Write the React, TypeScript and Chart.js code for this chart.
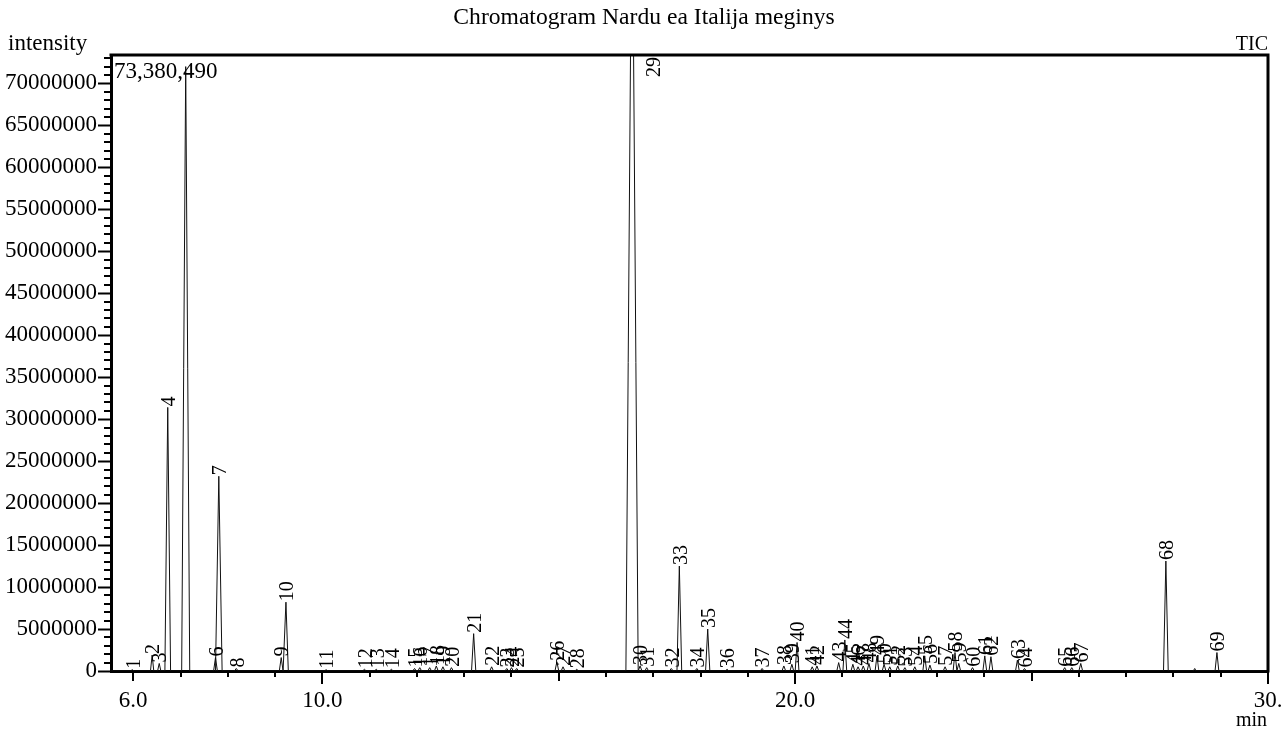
import React, { useEffect, useRef } from "react";
import { Chart, registerables } from "chart.js";

Chart.register(...registerables);

const chartTitle = "Chromatogram Nardu ea Italija meginys";
const yAxisName = "intensity";
const xAxisName = "min";
const traceName = "TIC";

const xMin = 5.53;
const xMax = 30.0;
const yMax = 73380490;

const xTickValues = [6, 10, 20, 30];
const xTickLabels = ["6.0", "10.0", "20.0", "30."];
const yTickValues = [
  0, 5000000, 10000000, 15000000, 20000000, 25000000, 30000000, 35000000,
  40000000, 45000000, 50000000, 55000000, 60000000, 65000000, 70000000,
];

const peakNumbers = [
  1, 2, 3, 4, 5, 6, 7, 8, 9, 10, 11, 12, 13, 14, 15, 16, 17, 18, 19, 20, 21, 22, 23,
  24, 25, 26, 27, 28, 29, 30, 31, 32, 33, 34, 35, 36, 37, 38, 39, 40, 41, 42, 43, 44,
  45, 46, 47, 48, 49, 50, 51, 52, 53, 54, 55, 56, 57, 58, 59, 60, 61, 62, 63, 64, 65,
  66, 67, 68, 69,
];
// peak numbers whose label is not printed in the reference (overlaps the max-value text)
const hiddenPeakLabels = [5];
const peakTimes = [
  5.98, 6.4, 6.55, 6.73, 7.11, 7.74, 7.81, 8.18, 9.13, 9.23, 10.08, 10.89, 11.14,
  11.46, 11.95, 12.06, 12.27, 12.41, 12.55, 12.73, 13.2, 13.58, 13.9, 14.0, 14.11,
  14.96, 15.09, 15.38, 16.55, 16.72, 16.86, 17.38, 17.55, 17.92, 18.15, 18.56, 19.3,
  19.76, 19.93, 20.04, 20.36, 20.46, 20.92, 21.05, 21.22, 21.33, 21.44, 21.56, 21.73,
  21.88, 22.0, 22.17, 22.32, 22.53, 22.74, 22.85, 23.17, 23.38, 23.46, 23.75, 24.01,
  24.14, 24.7, 24.85, 25.7, 25.85, 26.04, 27.84, 28.92,
];
const peakHeights = [
  150000, 1900000, 900000, 31400000, 72000000, 1600000, 23200000, 300000, 1600000,
  8200000, 150000, 200000, 200000, 200000, 300000, 400000, 400000, 600000, 500000,
  400000, 4450000, 500000, 300000, 400000, 300000, 1100000, 500000, 200000, 98000000,
  600000, 400000, 300000, 12500000, 300000, 5000000, 200000, 300000, 600000, 800000,
  3400000, 500000, 600000, 1000000, 3700000, 800000, 500000, 600000, 900000, 1800000,
  800000, 500000, 600000, 400000, 500000, 1800000, 700000, 500000, 2200000, 900000,
  400000, 1800000, 1700000, 1300000, 300000, 400000, 400000, 900000, 13100000, 2200000,
];
const peakWidths = [
  0.08, 0.07, 0.07, 0.12, 0.17, 0.08, 0.14, 0.08, 0.08, 0.1, 0.08, 0.08, 0.08, 0.08,
  0.08, 0.08, 0.08, 0.08, 0.08, 0.08, 0.09, 0.08, 0.08, 0.08, 0.08, 0.08, 0.08, 0.08,
  0.26, 0.08, 0.08, 0.08, 0.1, 0.08, 0.09, 0.08, 0.08, 0.08, 0.08, 0.08, 0.08, 0.08,
  0.08, 0.08, 0.08, 0.08, 0.08, 0.08, 0.08, 0.08, 0.08, 0.08, 0.08, 0.08, 0.08, 0.08,
  0.08, 0.08, 0.08, 0.08, 0.08, 0.08, 0.08, 0.08, 0.08, 0.08, 0.08, 0.1, 0.08,
];
const bumpTimes = [28.45];
const bumpHeights = [300000];
const bumpWidths = [0.06];

const SERIF = "'Liberation Serif', 'Times New Roman', serif";

function buildTrace() {
  const pts: { x: number; y: number }[] = [{ x: xMin, y: 0 }];
  const all = peakTimes
    .map((t, i) => ({ t, h: peakHeights[i], w: peakWidths[i] }))
    .concat(bumpTimes.map((t, i) => ({ t, h: bumpHeights[i], w: bumpWidths[i] })))
    .sort((a, b) => a.t - b.t);
  all.forEach((p) => {
    pts.push({ x: p.t - p.w / 2, y: 0 });
    pts.push({ x: p.t, y: p.h });
    pts.push({ x: p.t + p.w / 2, y: 0 });
  });
  pts.push({ x: xMax, y: 0 });
  return pts;
}

const decorPlugin = {
  id: "decor",
  afterDraw(chart: any) {
    const { ctx, chartArea: a, scales } = chart;
    const xs = scales.x;
    const ys = scales.y;
    ctx.save();
    ctx.strokeStyle = "#000";
    ctx.fillStyle = "#000";

    // top and right frame
    ctx.lineWidth = 3;
    ctx.beginPath();
    ctx.moveTo(a.left - 1.5, a.top);
    ctx.lineTo(a.right, a.top);
    ctx.lineTo(a.right, a.bottom + 1.5);
    ctx.stroke();

    // minor y ticks
    ctx.lineWidth = 2;
    ctx.beginPath();
    for (let v = 1000000; v <= yMax; v += 1000000) {
      if (v % 5000000 === 0) continue;
      const py = Math.round(ys.getPixelForValue(v));
      ctx.moveTo(a.left - 7, py);
      ctx.lineTo(a.left, py);
    }
    ctx.stroke();

    // x ticks
    ctx.beginPath();
    for (let v = Math.ceil(xMin); v <= xMax; v += 1) {
      const px = Math.round(xs.getPixelForValue(v));
      const len = v % 10 === 0 ? 13 : v % 5 === 0 || xTickValues.includes(v) ? 10 : 6;
      ctx.moveTo(px, a.bottom);
      ctx.lineTo(px, a.bottom + len);
    }
    ctx.stroke();

    // peak labels
    ctx.font = `20px ${SERIF}`;
    ctx.textBaseline = "middle";
    peakNumbers.forEach((n, i) => {
      if (hiddenPeakLabels.includes(n)) return;
      const px = xs.getPixelForValue(peakTimes[i]);
      ctx.save();
      if (peakHeights[i] > yMax) {
        ctx.translate(px + 23, a.top + 2);
        ctx.rotate(-Math.PI / 2);
        ctx.textAlign = "right";
      } else {
        const py = ys.getPixelForValue(peakHeights[i]);
        ctx.translate(px + 2, py - 1);
        ctx.rotate(-Math.PI / 2);
        ctx.textAlign = "left";
      }
      ctx.fillText(String(n), 0, 0);
      ctx.restore();
    });

    // axis names and max value
    ctx.font = `23px ${SERIF}`;
    ctx.textBaseline = "alphabetic";
    ctx.textAlign = "left";
    ctx.fillText(yAxisName, 8, 50);
    ctx.fillText(yMax.toLocaleString("en-US"), a.left + 3, 78);
    ctx.font = `20px ${SERIF}`;
    ctx.textAlign = "right";
    ctx.fillText(traceName, a.right, 50);
    ctx.fillText(xAxisName, a.right - 1, 726);
    ctx.restore();
  },
};

export default function App() {
  const canvasRef = useRef<HTMLCanvasElement | null>(null);

  useEffect(() => {
    if (!canvasRef.current) return;
    const chart = new Chart(canvasRef.current, {
      type: "line",
      data: {
        datasets: [
          {
            label: traceName,
            data: buildTrace(),
            borderColor: "#111",
            borderWidth: 1,
            pointRadius: 0,
            tension: 0,
            fill: false,
          },
        ],
      },
      options: {
        animation: false,
        responsive: true,
        maintainAspectRatio: false,
        layout: { padding: 0 },
        plugins: {
          legend: { display: false },
          tooltip: { enabled: false },
          title: {
            display: true,
            text: chartTitle,
            color: "#000",
            font: { family: SERIF, size: 23.6, weight: "normal", lineHeight: 1.2 },
            padding: { top: 4, bottom: 22.7 },
          },
        },
        scales: {
          x: {
            type: "linear",
            min: xMin,
            max: xMax,
            grid: { display: false },
            border: { display: true, color: "#000", width: 3 },
            ticks: {
              color: "#000",
              font: { family: SERIF, size: 23 },
              padding: 8,
              autoSkip: false,
              maxRotation: 0,
              callback: (_v: any, i: number) => xTickLabels[i],
            },
            afterBuildTicks: (scale: any) => {
              scale.ticks = xTickValues.map((v) => ({ value: v }));
            },
            afterFit: (scale: any) => {
              scale.height = 64;
              scale.paddingLeft = 0;
              scale.paddingRight = 20;
            },
          },
          y: {
            type: "linear",
            min: 0,
            max: yMax,
            grid: {
              display: true,
              drawOnChartArea: false,
              drawTicks: true,
              tickLength: 13,
              tickWidth: 2,
              tickColor: "#000",
            },
            border: { display: true, color: "#000", width: 3 },
            ticks: {
              color: "#000",
              font: { family: SERIF, size: 23 },
              padding: 1,
              autoSkip: false,
              callback: (v: any) => String(v),
            },
            afterBuildTicks: (scale: any) => {
              scale.ticks = yTickValues.map((v) => ({ value: v }));
            },
            afterFit: (scale: any) => {
              scale.width = 111;
            },
          },
        },
      },
      plugins: [decorPlugin],
    });
    return () => chart.destroy();
  }, []);

  return (
    <div style={{ position: "fixed", left: 0, top: 0, width: 1288, height: 735, background: "#fff" }}>
      <canvas ref={canvasRef} />
    </div>
  );
}
